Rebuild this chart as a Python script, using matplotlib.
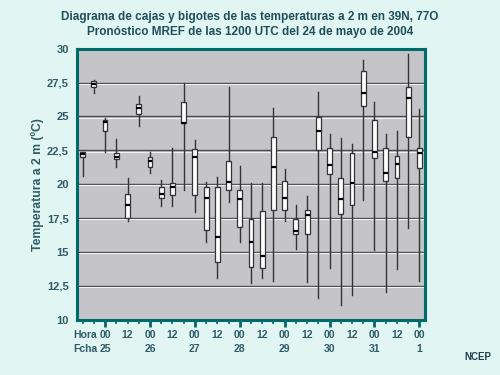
import numpy as np
import matplotlib.pyplot as plt
from matplotlib.transforms import blended_transform_factory

plt.rcParams['font.family'] = ['Liberation Sans', 'DejaVu Sans']

# forecast hour relative to 25 May 00Z, one ensemble box every 6 h
hours = np.arange(-12, 169, 6)
whis_lo = [20.6, 26.7, 22.4, 21.3, 17.3, 24.3, 20.8, 18.4, 18.4, 19.6, 17.97, 15.76, 13.05, 18.7, 15.7, 12.7,
           13.1, 12.85, 17.3, 15.2, 12.8, 11.6, 13.8, 11.1, 11.8, 18.8, 15.17, 12.03, 13.76, 16.78, 12.87]
q1 = [22.0, 27.2, 23.9, 21.83, 17.5, 25.17, 21.3, 19.0, 19.2, 24.5, 19.2, 16.6, 14.28, 19.56, 16.86, 13.86,
      13.8, 18.07, 18.07, 16.3, 16.3, 22.5, 20.74, 17.77, 18.5, 25.8, 21.97, 20.25, 20.45, 23.46, 21.23]
med = [22.2, 27.4, 24.6, 22.0, 18.5, 25.6, 21.7, 19.3, 19.8, 24.55, 22.0, 18.95, 16.1, 20.2, 18.9, 15.7,
       14.7, 21.3, 19.0, 16.55, 17.7, 23.9, 21.4, 18.9, 20.1, 26.7, 22.35, 20.8, 21.48, 26.35, 22.27]
q3 = [22.35, 27.6, 24.77, 22.27, 19.3, 25.95, 22.0, 19.76, 20.06, 26.1, 22.6, 19.8, 19.76, 21.7, 19.56, 17.4,
      18.0, 23.5, 20.25, 17.4, 18.1, 24.95, 22.67, 20.44, 22.3, 28.34, 24.77, 22.7, 22.05, 27.17, 22.67]
whis_hi = [22.4, 27.7, 24.9, 23.37, 20.47, 26.5, 22.4, 20.3, 22.7, 27.5, 23.3, 20.2, 20.5, 27.2, 21.33, 20.1,
           20.1, 25.65, 21.16, 18.45, 19.1, 26.8, 23.7, 23.4, 23.0, 29.2, 26.06, 23.7, 23.9, 29.6, 25.57]

y_ticks = [10, 12.5, 15, 17.5, 20, 22.5, 25, 27.5, 30]
y_labels = ["10", "12,5", "15", "17,5", "20", "22,5", "25", "27,5", "30"]
hour_ticks = np.arange(0, 169, 12)
hour_labels = ["00", "12"] * 7 + ["00"]
day_ticks = np.arange(0, 169, 24)
day_labels = ["25", "26", "27", "28", "29", "30", "31", "1"]

BG = "#e1f5f3"
PANEL = "#c5c4c8"
TEAL = "#006a6a"
TXT = "#2e5c66"

fig = plt.figure(figsize=(5, 3.75), dpi=100, facecolor=BG)
ax = fig.add_axes([0.154, 0.1475, 0.696, 0.7225], facecolor=PANEL)

# horizontal grid: dark line with a light line just under it
for y in y_ticks[1:-1]:
    ax.axhline(y, color="#4a4a4a", lw=1.0, zorder=1)
    ax.axhline(y - 0.09, color="#f2f2f2", lw=0.8, zorder=1)

stats = [dict(whislo=a, q1=b, med=c, q3=d, whishi=e)
         for a, b, c, d, e in zip(whis_lo, q1, med, q3, whis_hi)]
ax.bxp(stats, positions=hours, widths=2.6, showcaps=False, showfliers=False, patch_artist=True,
       boxprops=dict(facecolor="white", edgecolor="#333333", lw=0.9),
       whiskerprops=dict(color="#333333", lw=1.0),
       medianprops=dict(color="black", lw=1.6),
       manage_ticks=False, zorder=3)

ax.set_xlim(-15, 171)
ax.set_ylim(10, 30)

for s in ax.spines.values():
    s.set_color(TEAL)
    s.set_linewidth(2.2)

ax.set_yticks(y_ticks)
ax.set_yticklabels(y_labels, fontsize=8, fontweight="bold", color=TXT)
ax.tick_params(axis="y", length=0, pad=6)

ax.set_xticks(day_ticks)
ax.set_xticks(np.arange(-12, 169, 6), minor=True)
ax.set_xticklabels([])
ax.tick_params(axis="x", which="major", length=5, width=2, color=TEAL, direction="out")
ax.tick_params(axis="x", which="minor", length=3, width=1.2, color=TEAL, direction="out")

trans = blended_transform_factory(ax.transData, fig.transFigure)
for h, lab in zip(hour_ticks, hour_labels):
    ax.text(h, 1 - 335 / 375, lab, transform=trans, ha="center", va="center",
            fontsize=7.5, fontweight="bold", color=TXT)
for h, lab in zip(day_ticks, day_labels):
    ax.text(h, 1 - 349 / 375, lab, transform=trans, ha="center", va="center",
            fontsize=7.5, fontweight="bold", color=TXT)
fig.text(73 / 500, 1 - 335 / 375, "Hora", ha="left", va="center", fontsize=7.5, fontweight="bold", color=TXT)
fig.text(73 / 500, 1 - 349 / 375, "Fcha", ha="left", va="center", fontsize=7.5, fontweight="bold", color=TXT)

fig.text(0.5, 1 - 17 / 375, "Diagrama de cajas y bigotes de las temperaturas a 2 m en 39N, 77O",
         ha="center", va="center", fontsize=8.5, fontweight="bold", color="#1f4f5a")
fig.text(0.5, 1 - 32 / 375, "Pronóstico MREF de las 1200 UTC del 24 de mayo de 2004",
         ha="center", va="center", fontsize=8.5, fontweight="bold", color="#1f4f5a")
fig.text(38 / 500, 1 - 185 / 375, "Temperatura a 2 m (ºC)", rotation=90, ha="center", va="center",
         fontsize=8.8, fontweight="bold", color=TXT)
fig.text(478 / 500, 1 - 357 / 375, "NCEP", ha="center", va="center", fontsize=7, fontweight="bold",
         color="#1f3f4a")

fig.savefig("out.png", dpi=100, facecolor=BG)
